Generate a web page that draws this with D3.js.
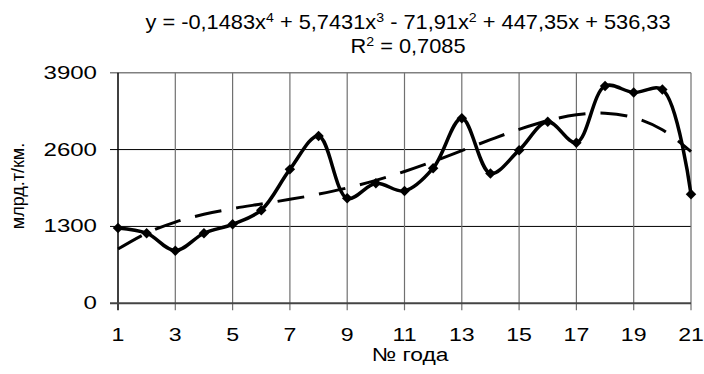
<!DOCTYPE html>
<html>
<head>
<meta charset="utf-8">
<script src="https://cdn.jsdelivr.net/npm/d3@7"></script>
<style>
body { margin: 0; background: #fff; }
text { font-family: "Liberation Sans", Arial, sans-serif; fill: #000; }
</style>
</head>
<body>
<script>
// годы и грузооборот
let years = d3.range(1, 22);
let values = [1275, 1185, 890, 1185, 1335, 1575, 2265, 2830, 1775, 2030, 1900, 2285,
  3130, 2195, 2590, 3070, 2715, 3675, 3565, 3615, 1845];
// полиномиальный тренд, значения в точках
let trend = [917, 1187, 1374, 1505, 1601, 1680, 1758, 1846, 1951, 2079, 2229, 2398,
  2581, 2767, 2942, 3090, 3189, 3216, 3142, 2936, 2564];
let yTicks = [0, 1300, 2600, 3900];
let xTicks = [1, 3, 5, 7, 9, 11, 13, 15, 17, 19, 21];

var width = 704, height = 374;

let svg = d3.select("body").append("svg")
  .attr("width", width).attr("height", height);

let x = d3.scaleLinear().domain([1, 21]).range([118, 691]);
let y = d3.scaleLinear().domain([0, 3900]).range([303.3, 72.7]);

// сетка
svg.append("g").selectAll("line.h")
  .data(yTicks.slice(1))
  .enter().append("line")
  .attr("x1", 110).attr("x2", 691)
  .attr("y1", d => y(d)).attr("y2", d => y(d))
  .attr("stroke", d => d == 3900 ? "#808080" : "#000")
  .attr("stroke-width", d => d == 3900 ? 1.5 : 1);

svg.append("g").selectAll("line.v")
  .data(xTicks)
  .enter().append("line")
  .attr("x1", d => x(d)).attr("x2", d => x(d))
  .attr("y1", y(3900)).attr("y2", y(0) + 7)
  .attr("stroke", d => d == 1 ? "#000" : "#707070")
  .attr("stroke-width", d => d == 1 ? 1.5 : 1.2);

// нижняя ось
svg.append("line")
  .attr("x1", 110).attr("x2", 691)
  .attr("y1", y(0)).attr("y2", y(0))
  .attr("stroke", "#444").attr("stroke-width", 2);

// подписи осей (шрифт в оригинале растянут по горизонтали)
svg.append("g").selectAll("text")
  .data(yTicks).enter().append("text")
  .attr("transform", d => "translate(97," + (y(d) + 6) + ") scale(1.3,1)")
  .attr("text-anchor", "end")
  .style("font-size", "18.5px")
  .text(d => d);

svg.append("g").selectAll("text")
  .data(xTicks).enter().append("text")
  .attr("transform", d => "translate(" + x(d) + ",341) scale(1.25,1)")
  .attr("text-anchor", "middle")
  .style("font-size", "18.5px")
  .text(d => d);

svg.append("text")
  .attr("transform", "translate(24,186) rotate(-90)")
  .attr("text-anchor", "middle")
  .style("font-size", "18px")
  .text("млрд.т/км.");

svg.append("text")
  .attr("transform", "translate(410,361) scale(1.2,1)")
  .attr("text-anchor", "middle")
  .style("font-size", "19px")
  .text("№ года");

// уравнение тренда
let eq = svg.append("text")
  .attr("transform", "translate(408,29) scale(1.09,1)")
  .attr("text-anchor", "middle")
  .style("font-size", "20px");
let parts = [["y = -0,1483x", 0], ["4", 1], [" + 5,7431x", 0], ["3", 1], [" - 71,91x", 0], ["2", 1],
  [" + 447,35x + 536,33", 0]];
parts.forEach(function(p){
  eq.append("tspan").text(p[0])
    .attr("baseline-shift", p[1] ? "super" : null)
    .style("font-size", p[1] ? "13px" : null);
});
let r2 = svg.append("text")
  .attr("transform", "translate(408,53) scale(1.09,1)")
  .attr("text-anchor", "middle")
  .style("font-size", "20px");
r2.append("tspan").text("R");
r2.append("tspan").text("2").attr("baseline-shift", "super").style("font-size", "13px");
r2.append("tspan").text(" = 0,7085");

// линия тренда
let trendLine = d3.line()
  .x((d, i) => x(years[i]))
  .y(d => y(d))
  .curve(d3.curveCatmullRom);

svg.append("path")
  .attr("d", trendLine(trend))
  .attr("fill", "none")
  .attr("stroke", "#000")
  .attr("stroke-width", 3)
  .attr("stroke-dasharray", "27,15");

// фактические значения
let dataLine = d3.line()
  .x((d, i) => x(years[i]))
  .y(d => y(d))
  .curve(d3.curveCatmullRom);

svg.append("path")
  .attr("d", dataLine(values))
  .attr("fill", "none")
  .attr("stroke", "#000")
  .attr("stroke-width", 3.5)
  .attr("stroke-linejoin", "round");

svg.append("g").selectAll("path")
  .data(values).enter().append("path")
  .attr("d", d3.symbol().type(d3.symbolSquare).size(55))
  .attr("transform", (d, i) => "translate(" + x(years[i]) + "," + y(d) + ") rotate(45)")
  .attr("fill", "#000");
</script>
</body>
</html>
